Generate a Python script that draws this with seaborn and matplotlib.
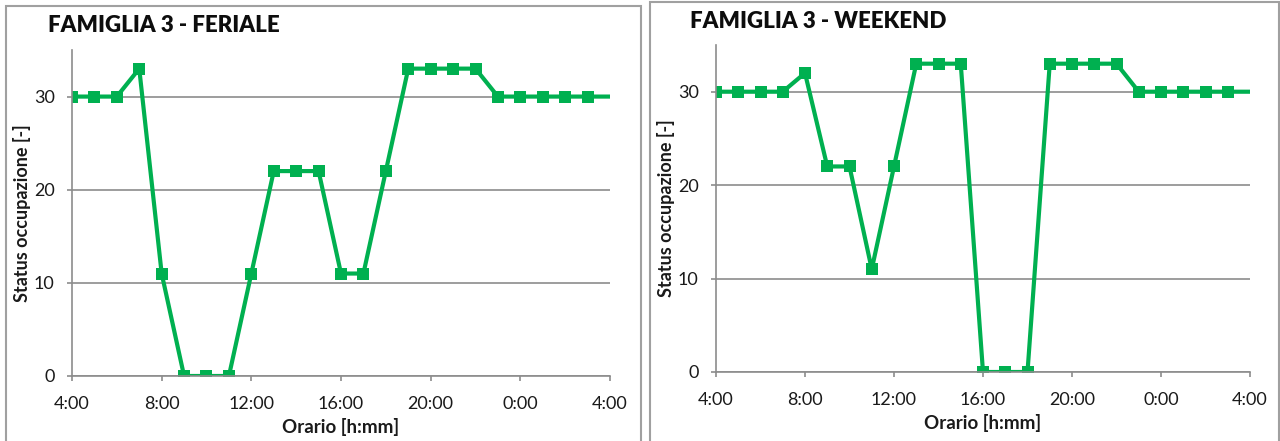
import matplotlib
matplotlib.use("Agg")
import matplotlib.pyplot as plt
import seaborn as sns
import pandas as pd
from matplotlib.patches import Rectangle

# Hourly occupancy status, 4:00 through 4:00 of the next day
hours = list(range(4, 29))
tick_hours = [4, 8, 12, 16, 20, 24, 28]
tick_labels = ["4:00", "8:00", "12:00", "16:00", "20:00", "0:00", "4:00"]
feriale = [30, 30, 30, 33, 11, 0, 0, 0, 11, 22, 22, 22, 11, 11, 22,
           33, 33, 33, 33, 30, 30, 30, 30, 30, 30]
weekend = [30, 30, 30, 30, 32, 22, 22, 11, 22, 33, 33, 33, 0, 0, 0,
           33, 33, 33, 33, 30, 30, 30, 30, 30, 30]
titles = ["FAMIGLIA 3 - FERIALE", "FAMIGLIA 3 - WEEKEND"]
y_ticks = [0, 10, 20, 30]

sns.set_theme(style="white")
plt.rcParams["font.family"] = ["Lato", "DejaVu Sans"]

GREEN = "#00B050"
GRID = "#8C8C8C"
W, H = 1280, 441

fig = plt.figure(figsize=(12.8, 4.41), dpi=100)

# panel frames (pixel coords: x0, y0_top, x1)
frames = [(6, 6, 641), (650, 2, 1279)]
for x0, ytop, x1 in frames:
    fig.add_artist(Rectangle((x0 / W, -0.05), (x1 - x0) / W, 1.05 - ytop / H,
                             transform=fig.transFigure, fill=False,
                             edgecolor="#A0A0A0", linewidth=1.5))

# axes placement in pixels: (left, right, bottom(y=0), top(y=35))
boxes = [(72, 610, 376, 50), (716, 1250, 372, 45)]
title_pos = [(48, 25), (690, 21)]
series = [feriale, weekend]

for i, (l, r, b, t) in enumerate(boxes):
    ax = fig.add_axes([l / W, 1 - b / H, (r - l) / W, (b - t) / H])
    df = pd.DataFrame({"hour": hours, "status": series[i]})
    sns.lineplot(data=df, x="hour", y="status", ax=ax, color=GREEN,
                 linewidth=3, marker="s", markersize=8.5,
                 markeredgewidth=0, markevery=list(range(24)))
    ax.set_xlim(4, 28)
    ax.set_ylim(0, 35)
    ax.set_xticks(tick_hours)
    ax.set_xticklabels(tick_labels)
    ax.set_yticks(y_ticks)
    ax.yaxis.grid(True, color=GRID, linewidth=1.2)
    ax.set_axisbelow(True)
    for s in ["top", "right"]:
        ax.spines[s].set_visible(False)
    for s in ["left", "bottom"]:
        ax.spines[s].set_color(GRID)
        ax.spines[s].set_linewidth(1.2)
    ax.tick_params(axis="both", which="major", direction="out", length=3.5,
                   width=1.2, color=GRID, labelsize=13, labelcolor="#1a1a1a")
    ax.tick_params(axis="y", pad=9)
    ax.tick_params(axis="x", pad=11)
    ax.tick_params(bottom=True, left=True)
    ax.set_xlabel("Orario [h:mm]", fontsize=13.5, fontweight="bold",
                  color="#1a1a1a", labelpad=4)
    ax.set_ylabel("Status occupazione [-]", fontsize=13, fontweight="bold",
                  color="#1a1a1a", labelpad=2)
    tx, ty = title_pos[i]
    fig.text(tx / W, 1 - ty / H, titles[i], fontsize=16, fontweight="heavy",
             color="#0d0d0d", ha="left", va="center")

fig.savefig("out.png", dpi=100)
